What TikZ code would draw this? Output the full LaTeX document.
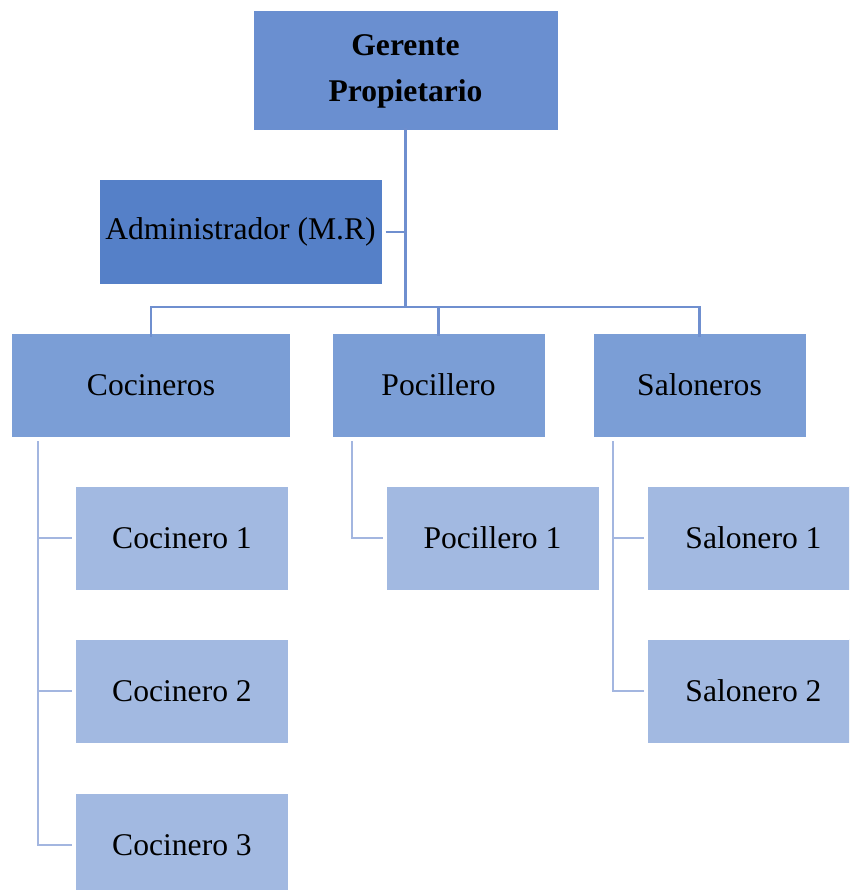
\documentclass[tikz,border=0pt]{standalone}
\usepackage{fontspec}
\setmainfont{Liberation Serif}
\definecolor{cTop}{HTML}{6A8FD0}
\definecolor{cAdm}{HTML}{5580C8}
\definecolor{cMid}{HTML}{7B9ED6}
\definecolor{cLow}{HTML}{A2B9E1}
\definecolor{lnTop}{HTML}{6F8FCF}
\definecolor{lnLow}{HTML}{A3B6E0}
\begin{document}
\begin{tikzpicture}[x=1pt,y=-1pt,
  box/.style={draw=white,line width=1pt,inner sep=0pt,align=center,
    font=\fontsize{31.6}{44}\selectfont,text=black},
  topbox/.style={box,fill=cTop,minimum width=305pt,minimum height=120pt,font=\fontsize{31.6}{46}\selectfont\bfseries},
  admbox/.style={box,fill=cAdm,minimum width=283pt,minimum height=104pt},
  midbox/.style={box,fill=cMid,minimum width=213pt,minimum height=104pt},
  lowbox/.style={box,fill=cLow,minimum width=213pt,minimum height=104pt},
  toplink/.style={draw=lnTop,line width=2.5pt},
  lowlink/.style={draw=lnLow,line width=2.5pt}]
\useasboundingbox (0,0) rectangle (849,890);
\clip (0,0) rectangle (849,890);
\node[topbox] (ger) at (405.5,71) {Gerente\\Propietario};
\node[admbox] (adm) at (240.5,232) {Administrador (M.R)};
\node[midbox,minimum width=279pt] (coc) at (151,385) {Cocineros};
\node[midbox] (poc) at (438.5,385) {Pocillero};
\node[midbox] (sal) at (699.5,385) {Saloneros};
\node[lowbox] (c1) at (182,538) {Cocinero 1};
\node[lowbox] (c2) at (182,691) {Cocinero 2};
\node[lowbox] (c3) at (182,845) {Cocinero 3};
\node[lowbox] (p1) at (492.5,538) {Pocillero 1};
\node[lowbox] (s1) at (753.5,538) {Salonero 1};
\node[lowbox] (s2) at (753.5,691) {Salonero 2};
% top level connectors
\coordinate (bus) at (405.5,307);
\draw[toplink] ([yshift=3pt]ger.south) -- (bus);
\draw[toplink] ([xshift=3pt]adm.east) -- (adm.east -| bus);
\draw[toplink,line cap=rect] ([yshift=-3pt]coc.north) |- (bus) -| ([yshift=-3pt]sal.north);
\draw[toplink] (bus -| poc.north) -- ([yshift=-3pt]poc.north);
% lower connectors
\coordinate (cl) at (38,441);
\coordinate (pl) at (352,441);
\coordinate (sl) at (613,441);
\draw[lowlink] (cl) |- ([xshift=-3pt]c3.west);
\draw[lowlink] (cl |- c1.west) -- ([xshift=-3pt]c1.west);
\draw[lowlink] (cl |- c2.west) -- ([xshift=-3pt]c2.west);
\draw[lowlink] (pl) |- ([xshift=-3pt]p1.west);
\draw[lowlink] (sl) |- ([xshift=-3pt]s2.west);
\draw[lowlink] (sl |- s1.west) -- ([xshift=-3pt]s1.west);
\end{tikzpicture}
\end{document}
